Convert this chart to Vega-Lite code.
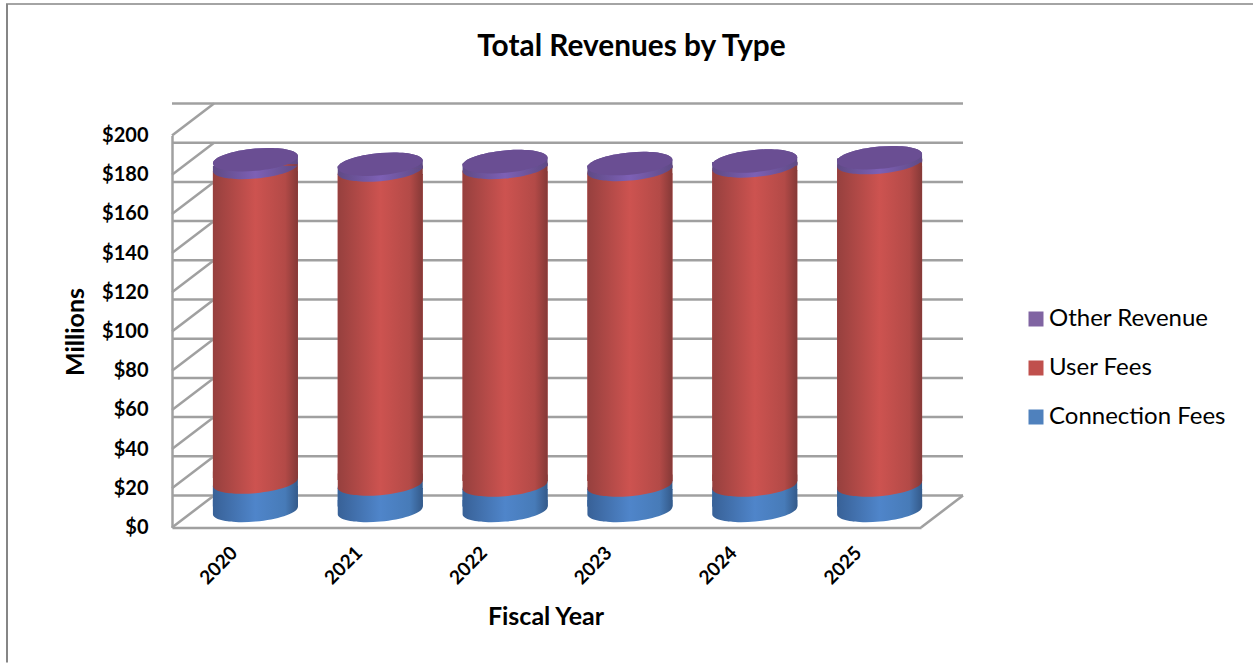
{"$schema":"https://vega.github.io/schema/vega-lite/v6.json","autosize":"none","width":749,"height":392,"padding":{"left":172,"top":135.5,"right":332,"bottom":135.5},"background":"white",
"title":{"text":"Total Revenues by Type","font":"Lato","fontSize":29.8,"fontWeight":"bold","color":"#000000","anchor":"middle","frame":"group","dx":85,"offset":0,"dy":74,"baseline":"middle"},
"config":{"view":{"stroke":null},"font":"Lato"},
"resolve":{"axis":{"y":"independent"}},
"datasets":{"rev":[
{"year":"2020","series":"Connection Fees","rank":1,"value":14.5},{"year":"2020","series":"User Fees","rank":2,"value":160.5},{"year":"2020","series":"Other Revenue","rank":3,"value":4},
{"year":"2021","series":"Connection Fees","rank":1,"value":13.5},{"year":"2021","series":"User Fees","rank":2,"value":160.2},{"year":"2021","series":"Other Revenue","rank":3,"value":3},
{"year":"2022","series":"Connection Fees","rank":1,"value":13},{"year":"2022","series":"User Fees","rank":2,"value":162},{"year":"2022","series":"Other Revenue","rank":3,"value":3},
{"year":"2023","series":"Connection Fees","rank":1,"value":13},{"year":"2023","series":"User Fees","rank":2,"value":161},{"year":"2023","series":"Other Revenue","rank":3,"value":3},
{"year":"2024","series":"Connection Fees","rank":1,"value":13},{"year":"2024","series":"User Fees","rank":2,"value":162.8},{"year":"2024","series":"Other Revenue","rank":3,"value":2.5},
{"year":"2025","series":"Connection Fees","rank":1,"value":13},{"year":"2025","series":"User Fees","rank":2,"value":164.5},{"year":"2025","series":"Other Revenue","rank":3,"value":2.5}],
"grid":[{"tick":0},{"tick":20},{"tick":40},{"tick":60},{"tick":80},{"tick":100},{"tick":120},{"tick":140},{"tick":160},{"tick":180},{"tick":200}],
"floor":[{"tick":0}]},
"data":{"name":"rev"},
"transform":[{"stack":"value","groupby":["year"],"sort":[{"field":"rank","order":"ascending"}],"as":["y0","y1"]}],
"encoding":{"x":{"field":"year","type":"nominal","scale":{"paddingInner":0.318,"paddingOuter":0.159},"axis":{"title":"Fiscal Year","titleFont":"Lato","titleFontSize":25,"titleFontWeight":"bold","titleColor":"#000","titlePadding":17,"titleX":373.5,"labelFont":"Lato","labelFontSize":19,"labelFontWeight":"bold","labelColor":"#000","labelAngle":-45,"labelAlign":"right","labelBaseline":"middle","labelPadding":22,"ticks":false,"domainColor":"#a0a0a0","domainWidth":2.5}}},
"layer":[
{"data":{"name":"grid"},"mark":{"type":"rule","stroke":"#a0a0a0","strokeWidth":2.5,"xOffset":42,"yOffset":-32},"encoding":{"x":null,"y":{"field":"tick","type":"quantitative","scale":{"domain":[0,200]},"axis":{"title":"Millions","titleFont":"Lato","titleFontSize":25,"titleFontWeight":"bold","titleColor":"#000","titlePadding":13,"labelFont":"Lato","labelFontSize":20,"labelFontWeight":"bold","labelColor":"#000","format":"$,d","values":[0,20,40,60,80,100,120,140,160,180,200],"labelOverlap":false,"grid":false,"ticks":false,"labelPadding":24,"domainColor":"#a0a0a0","domainWidth":2.5}}}},
{"data":{"name":"grid"},"mark":{"type":"rule","stroke":"#a0a0a0","strokeWidth":2.5,"y2Offset":-32},"encoding":{"x":{"value":0},"x2":{"value":42},"y":{"field":"tick","type":"quantitative","axis":null},"y2":{"field":"tick"}}},
{"data":{"name":"floor"},"mark":{"type":"rule","stroke":"#a0a0a0","strokeWidth":2.5,"y2Offset":-32},"encoding":{"x":{"value":749},"x2":{"value":791},"y":{"field":"tick","type":"quantitative","axis":null},"y2":{"field":"tick"}}},
{"mark":{"type":"bar","size":85,"xOffset":21,"yOffset":-21,"y2Offset":-13},"encoding":{"y":{"field":"y0","type":"quantitative","axis":null},"y2":{"field":"y1"},"color":{"field":"series","type":"nominal","scale":{"domain":["Other Revenue","User Fees","Connection Fees"],"range":["#8064a2","#c0504d","#4f81bd"]},"legend":{"orient":"none","legendX":852,"legendY":171.5,"title":null,"symbolType":"square","symbolSize":225,"labelFont":"Lato","labelFontSize":24,"labelLimit":300,"labelColor":"#000","rowPadding":25,"labelOffset":1,"symbolStrokeWidth":0}}}},
{"transform":[{"filter":"datum.rank==1"}],"mark":{"type":"bar","size":85,"xOffset":21,"yOffset":-21,"y2Offset":-13,"fill":{"gradient":"linear","x1":0,"x2":1,"y1":0,"y2":0,"stops":[{"offset":0,"color":"#386197"},{"offset":0.5,"color":"#4f85ca"},{"offset":0.85,"color":"#477bb8"},{"offset":1,"color":"#345a8a"}]}},"encoding":{"y":{"field":"y0","type":"quantitative","axis":null},"y2":{"field":"y1"}}},
{"transform":[{"filter":"datum.rank==1"}],"mark":{"type":"point","filled":true,"opacity":1,"size":7225,"shape":"M-1,0.09 A1,0.26,-5.4,1,1,1,-0.09 L1,0.11 L-1,0.11 Z","xOffset":21,"yOffset":-17,"fill":{"gradient":"linear","x1":0,"x2":1,"y1":0,"y2":0,"stops":[{"offset":0,"color":"#386197"},{"offset":0.5,"color":"#4f85ca"},{"offset":0.85,"color":"#477bb8"},{"offset":1,"color":"#345a8a"}]}},"encoding":{"y":{"field":"y1","type":"quantitative","axis":null}}},
{"transform":[{"filter":"datum.rank==1"}],"mark":{"type":"point","filled":true,"opacity":1,"size":7225,"shape":"M-1,0.09 A1,0.26,-5.4,0,0,1,-0.09 L1,-0.25 L-1,-0.25 Z","xOffset":21,"yOffset":-17,"fill":{"gradient":"linear","x1":0,"x2":1,"y1":0,"y2":0,"stops":[{"offset":0,"color":"#386197"},{"offset":0.5,"color":"#4f85ca"},{"offset":0.85,"color":"#477bb8"},{"offset":1,"color":"#345a8a"}]}},"encoding":{"y":{"field":"y0","type":"quantitative","axis":null}}},
{"transform":[{"filter":"datum.rank==2"}],"mark":{"type":"bar","size":85,"xOffset":21,"yOffset":-21,"y2Offset":-13,"fill":{"gradient":"linear","x1":0,"x2":1,"y1":0,"y2":0,"stops":[{"offset":0,"color":"#96403e"},{"offset":0.5,"color":"#cd5350"},{"offset":0.85,"color":"#b34a47"},{"offset":1,"color":"#853937"}]}},"encoding":{"y":{"field":"y0","type":"quantitative","axis":null},"y2":{"field":"y1"}}},
{"transform":[{"filter":"datum.rank==2"}],"mark":{"type":"point","filled":true,"opacity":1,"size":7225,"shape":"M-1,0.09 A1,0.26,-5.4,1,1,1,-0.09 L1,0.11 L-1,0.11 Z","xOffset":21,"yOffset":-17,"fill":{"gradient":"linear","x1":0,"x2":1,"y1":0,"y2":0,"stops":[{"offset":0,"color":"#96403e"},{"offset":0.5,"color":"#cd5350"},{"offset":0.85,"color":"#b34a47"},{"offset":1,"color":"#853937"}]}},"encoding":{"y":{"field":"y1","type":"quantitative","axis":null}}},
{"transform":[{"filter":"datum.rank==2"}],"mark":{"type":"point","filled":true,"opacity":1,"size":7225,"shape":"M-1,0.09 A1,0.26,-5.4,0,0,1,-0.09 L1,-0.25 L-1,-0.25 Z","xOffset":21,"yOffset":-17,"fill":{"gradient":"linear","x1":0,"x2":1,"y1":0,"y2":0,"stops":[{"offset":0,"color":"#96403e"},{"offset":0.5,"color":"#cd5350"},{"offset":0.85,"color":"#b34a47"},{"offset":1,"color":"#853937"}]}},"encoding":{"y":{"field":"y0","type":"quantitative","axis":null}}},
{"transform":[{"filter":"datum.rank==3"}],"mark":{"type":"bar","size":85,"xOffset":21,"yOffset":-21,"y2Offset":-13,"fill":{"gradient":"linear","x1":0,"x2":1,"y1":0,"y2":0,"stops":[{"offset":0,"color":"#5f4a85"},{"offset":0.5,"color":"#7d60b5"},{"offset":1,"color":"#5f4a85"}]}},"encoding":{"y":{"field":"y0","type":"quantitative","axis":null},"y2":{"field":"y1"}}},
{"transform":[{"filter":"datum.rank==3"}],"mark":{"type":"point","filled":true,"opacity":1,"size":7225,"shape":"M-1,0.09 A1,0.26,-5.4,0,0,1,-0.09 L1,-0.04 L-1,-0.04 Z","xOffset":21,"yOffset":-17,"fill":{"gradient":"linear","x1":0,"x2":1,"y1":0,"y2":0,"stops":[{"offset":0,"color":"#5f4a85"},{"offset":0.5,"color":"#7d60b5"},{"offset":1,"color":"#5f4a85"}]}},"encoding":{"y":{"field":"y0","type":"quantitative","axis":null}}},
{"transform":[{"filter":"datum.rank==3"}],"mark":{"type":"point","filled":true,"opacity":1,"size":7225,"shape":"M-1,0.09 A1,0.26,-5.4,1,1,1,-0.09 L1,0.11 L-1,0.09 Z","xOffset":21,"yOffset":-17,"fill":{"gradient":"linear","x1":0,"x2":1,"y1":0,"y2":0,"stops":[{"offset":0,"color":"#5f4a85"},{"offset":0.5,"color":"#7d60b5"},{"offset":1,"color":"#5f4a85"}]}},"encoding":{"y":{"field":"y1","type":"quantitative","axis":null}}},
{"transform":[{"filter":"datum.rank==3"}],"mark":{"type":"point","filled":true,"opacity":1,"size":7225,"fill":"#6a4e93","shape":"M-1,0.09 A1,0.26,-5.4,1,1,1,-0.09 A1,0.26,-5.4,1,1,-1,0.09 Z","xOffset":21,"yOffset":-17},"encoding":{"y":{"field":"y1","type":"quantitative","axis":null}}},
{"data":{"name":"floor"},"mark":{"type":"rule","stroke":"#868686","strokeWidth":1.5},"encoding":{"x":{"value":-166},"x2":{"value":1081},"y":{"value":-131.5}}},
{"data":{"name":"floor"},"mark":{"type":"rule","stroke":"#868686","strokeWidth":2},"encoding":{"x":{"value":-165},"y":{"value":-131.5},"y2":{"value":527}}}
]}
